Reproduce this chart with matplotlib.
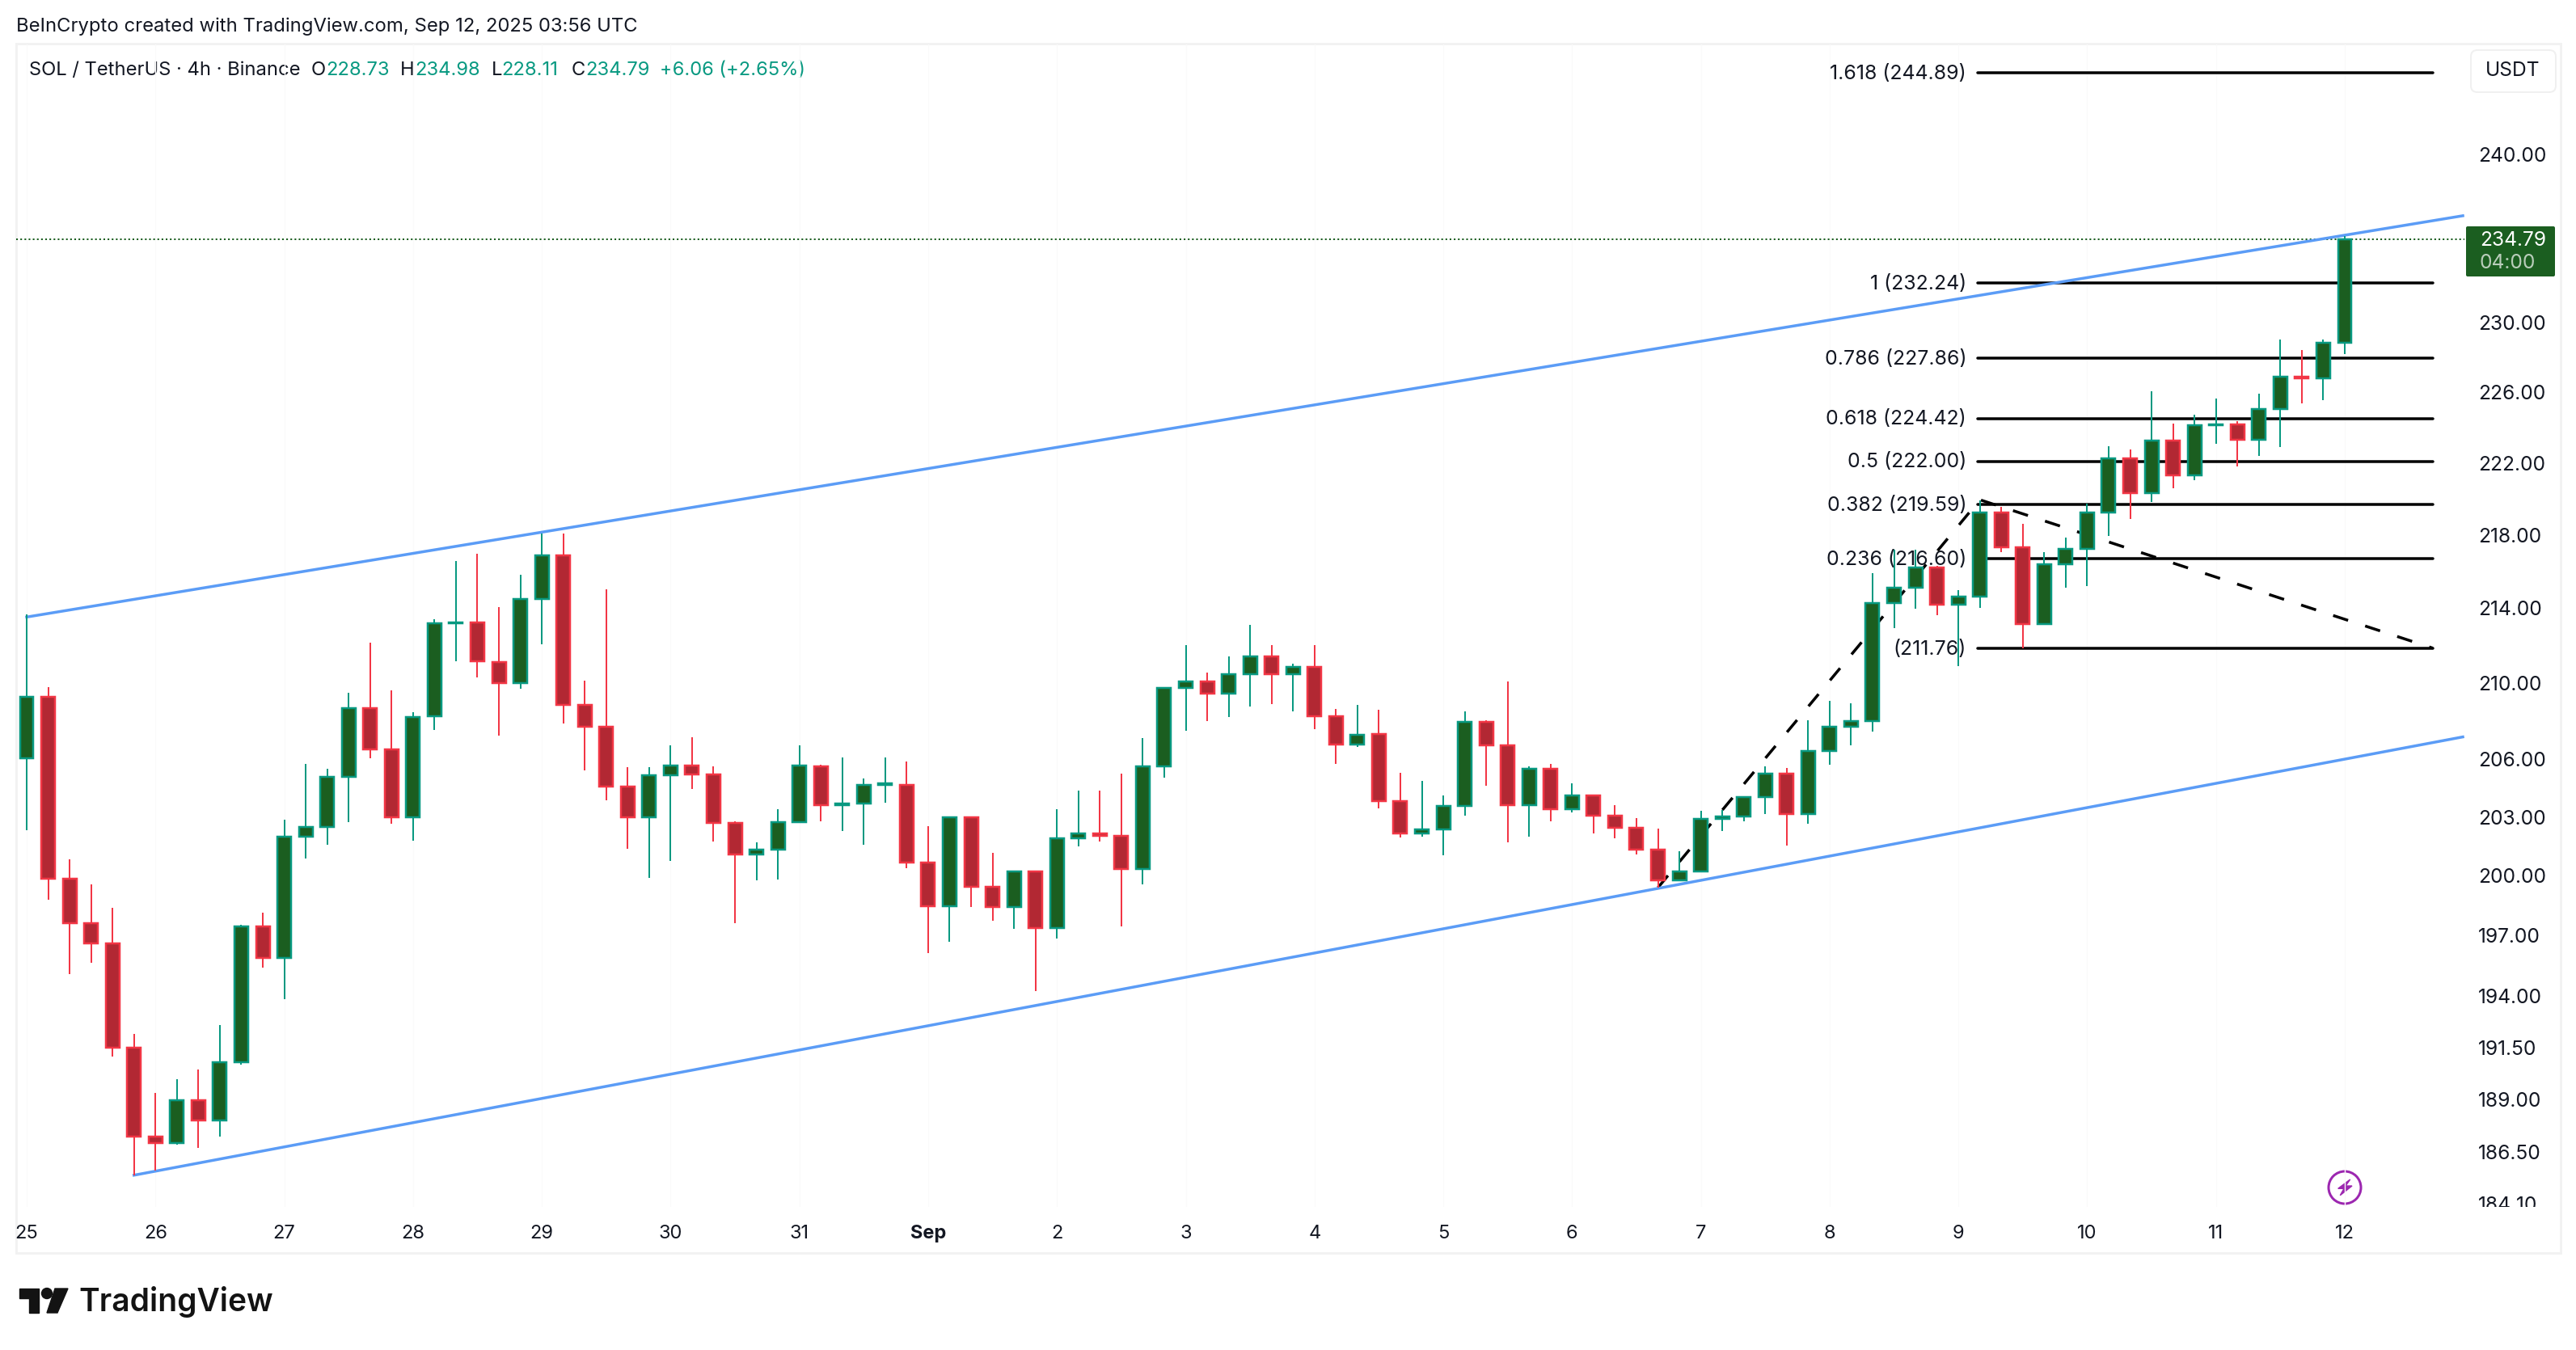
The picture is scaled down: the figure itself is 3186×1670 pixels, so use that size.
import matplotlib
matplotlib.use('Agg')
import matplotlib.pyplot as plt
from matplotlib.patches import Rectangle, Circle, Polygon, FancyBboxPatch
from matplotlib.transforms import Bbox, TransformedBbox, ScaledTranslation

plt.rcParams['font.family'] = ['Inter', 'DejaVu Sans']
plt.rcParams['lines.scale_dashes'] = False

# SOL/USDT 4h candles
opens = [205.96, 209.19, 199.79, 197.52, 196.52, 191.42, 187.18, 186.87, 188.88, 187.95,
         190.70, 197.38, 195.83, 201.89, 202.39, 204.97, 208.58, 206.39, 202.91, 208.16,
         213.08, 213.13, 211.00, 209.91, 214.39, 216.80, 208.75, 207.60, 204.46, 202.91,
         205.06, 205.57, 205.10, 202.59, 200.99, 201.23, 202.64, 205.52, 203.53, 203.60,
         204.56, 204.56, 200.59, 198.40, 202.90, 199.36, 198.33, 200.13, 197.31, 201.82,
         202.08, 201.95, 200.27, 205.52, 209.62, 209.97, 209.34, 210.37, 211.33, 210.37,
         210.75, 208.15, 206.67, 207.21, 203.73, 202.07, 202.28, 203.47, 207.84, 206.62,
         203.52, 205.40, 203.31, 204.02, 202.96, 202.34, 201.24, 199.69, 200.13, 202.80,
         202.94, 203.92, 205.13, 203.06, 206.31, 207.61, 207.89, 214.20, 215.00, 216.10,
         214.09, 214.55, 219.16, 217.21, 213.05, 216.28, 217.15, 219.16, 222.18, 220.22,
         223.16, 221.20, 224.01, 224.07, 223.21, 224.97, 226.78, 226.72, 228.73]
highs = [213.56, 209.69, 200.76, 199.49, 198.32, 192.10, 189.26, 189.90, 190.35, 192.53,
         197.47, 198.07, 202.79, 205.67, 205.38, 209.39, 212.05, 209.49, 208.34, 213.30,
         216.47, 216.88, 213.98, 215.74, 217.98, 218.00, 210.03, 214.93, 205.50, 205.50,
         206.64, 207.06, 205.54, 202.67, 201.60, 203.32, 206.64, 205.63, 206.00, 204.88,
         205.97, 205.76, 202.46, 202.90, 202.95, 201.10, 200.15, 200.15, 203.32, 204.28,
         204.28, 205.13, 206.98, 209.65, 211.92, 210.47, 211.33, 213.01, 211.92, 210.94,
         211.93, 208.54, 208.76, 208.50, 205.17, 204.79, 204.03, 208.42, 207.94, 209.99,
         205.54, 205.67, 204.66, 204.04, 203.53, 202.85, 202.33, 201.17, 203.22, 203.27,
         203.99, 205.54, 205.46, 207.94, 208.95, 208.82, 215.81, 217.10, 217.11, 216.22,
         214.90, 219.81, 219.47, 218.53, 216.96, 217.76, 219.64, 222.85, 222.67, 225.96,
         224.14, 224.62, 225.56, 224.28, 225.84, 228.95, 228.34, 228.95, 234.98]
lows = [202.23, 198.70, 195.00, 195.57, 190.99, 185.35, 185.57, 186.80, 186.65, 187.15,
        190.59, 195.34, 193.77, 200.81, 201.49, 202.65, 205.93, 202.55, 201.70, 207.43,
        211.07, 210.18, 207.14, 209.61, 211.98, 207.77, 205.33, 203.79, 201.30, 199.82,
        200.66, 204.37, 201.64, 197.53, 199.71, 199.75, 202.60, 202.70, 202.21, 201.49,
        203.66, 200.30, 196.05, 196.61, 198.34, 197.65, 197.25, 194.18, 196.77, 201.40,
        201.67, 197.38, 199.47, 204.94, 207.39, 207.91, 208.12, 208.67, 208.80, 208.40,
        207.45, 205.67, 206.55, 203.37, 201.85, 201.89, 200.95, 203.00, 204.51, 201.60,
        201.89, 202.67, 203.13, 202.06, 201.81, 201.00, 199.32, 199.63, 200.12, 202.21,
        202.70, 203.07, 201.47, 202.58, 205.59, 206.63, 207.36, 212.85, 213.87, 213.55,
        210.78, 213.93, 216.96, 211.76, 213.00, 215.00, 215.09, 217.83, 218.77, 219.72,
        220.49, 220.96, 222.97, 221.71, 222.28, 222.79, 225.29, 225.44, 228.11]
closes = [209.19, 199.79, 197.52, 196.52, 191.42, 187.18, 186.87, 188.88, 187.95, 190.70,
          197.38, 195.83, 201.89, 202.39, 204.97, 208.58, 206.39, 202.91, 208.09, 213.08,
          213.13, 211.04, 209.91, 214.39, 216.80, 208.75, 207.60, 204.46, 202.91, 205.06,
          205.57, 205.10, 202.59, 200.99, 201.23, 202.64, 205.57, 203.53, 203.60, 204.56,
          204.64, 200.59, 198.40, 202.90, 199.36, 198.35, 200.13, 197.31, 201.82, 202.08,
          201.95, 200.27, 205.52, 209.62, 209.97, 209.34, 210.37, 211.33, 210.37, 210.75,
          208.15, 206.67, 207.17, 203.73, 202.07, 202.28, 203.47, 207.84, 206.62, 203.52,
          205.40, 203.31, 204.02, 202.96, 202.34, 201.24, 199.69, 200.13, 202.80, 202.94,
          203.92, 205.13, 203.06, 206.31, 207.61, 207.89, 214.20, 215.00, 216.10, 214.09,
          214.55, 219.16, 217.21, 213.05, 216.28, 217.15, 219.16, 222.18, 220.22, 223.16,
          221.20, 224.01, 224.07, 223.21, 224.97, 226.78, 226.72, 228.73, 234.79]

# fib levels
fib_prices = [244.89, 232.24, 227.86, 224.42, 222.00, 219.59, 216.60, 211.76]
fib_labels = ['1.618 (244.89)', '1 (232.24)', '0.786 (227.86)', '0.618 (224.42)',
              '0.5 (222.00)', '0.382 (219.59)', '0.236 (216.60)', '(211.76)']
fib_bars = [90.9, 112.1]

# channel and the dashed fib path
upper_bars = [0, 113.5]
upper_prices = [213.43, 236.21]
lower_bars = [5, 113.5]
lower_prices = [185.35, 207.06]
path_bars = [76, 91, 112.1]
path_prices = [199.32, 219.85, 211.76]

# axes labels
price_ticks = [184.10, 186.50, 189, 191.50, 194, 197, 200, 203, 206, 210, 214, 218,
               222, 226, 230, 240]
day_labels = ['25', '26', '27', '28', '29', '30', '31', 'Sep', '2', '3', '4', '5', '6',
              '7', '8', '9', '10', '11', '12']
last_price = 234.79
BARS_PER_DAY = 6

GREEN_BODY = '#1b5e20'
GREEN_EDGE = '#089981'
RED_BODY = '#b22833'
RED_EDGE = '#f23645'
BLUE = '#5b9cf6'
TEXT = '#131722'
W, H = 3186, 1670
PX = 0.72  # points per pixel at dpi 100

fig = plt.figure(figsize=(W / 100, H / 100), dpi=100)
fig.patch.set_facecolor('white')

# page layer in pixel coordinates: frame, header, logo, price tag
bg = fig.add_axes([0, 0, 1, 1])
bg.set_xlim(0, W)
bg.set_ylim(H, 0)
bg.axis('off')

bg.add_patch(Rectangle((20, 54), 3147, 1496, facecolor='white', edgecolor='#f2f2f2', linewidth=3 * PX))
bg.text(20, 33, 'BeInCrypto created with TradingView.com, Sep 12, 2025 03:56 UTC',
        fontsize=17.15, color=TEXT, va='center')
bg.text(36, 87, 'SOL / TetherUS · 4h · Binance', fontsize=17.1, color=TEXT, va='center')
for x, s, c in [(385, 'O', TEXT), (403, '228.73', GREEN_EDGE), (495, 'H', TEXT), (513, '234.98', GREEN_EDGE),
                (608, 'L', TEXT), (620, '228.11', GREEN_EDGE), (707, 'C', TEXT), (724, '234.79', GREEN_EDGE),
                (816, '+6.06 (+2.65%)', GREEN_EDGE)]:
    bg.text(x, 87, s, fontsize=17.1, color=c, va='center')

# TradingView logo
bg.add_patch(Polygon([(24, 1594), (48, 1594), (48, 1624), (36, 1624), (36, 1606), (24, 1606)], color='#131313'))
bg.add_patch(Circle((58, 1600), 6.5, color='#131313'))
bg.add_patch(Polygon([(68, 1594), (84, 1594), (71, 1624), (58, 1624)], color='#131313'))
bg.text(97, 1611, 'TradingView', fontsize=28, fontweight='semibold', color='#131313', va='center')

# USDT button and last price tag
bg.add_patch(FancyBboxPatch((3064, 70), 89, 36, boxstyle='round,pad=8', facecolor='white',
                            edgecolor='#f0f0f0', linewidth=2 * PX))
bg.text(3108, 88, 'USDT', fontsize=17.7, color=TEXT, ha='center', va='center')
bg.add_patch(FancyBboxPatch((3052, 282), 106, 58, boxstyle='round,pad=2', facecolor=GREEN_BODY, edgecolor='none'))
bg.text(3067, 298, '234.79', fontsize=17.7, color='white', va='center')
bg.text(3067, 326, '04:00', fontsize=17.7, color='#b9cdba', va='center')

# lightning icon
bg.add_patch(Circle((2900, 1469), 20, facecolor='none', edgecolor='#9c27b0', linewidth=3 * PX))
bg.add_patch(Polygon([(2906.7, 1459), (2891.7, 1470.3), (2899, 1470.3), (2894.3, 1478.7),
                      (2909, 1467), (2901, 1467)], color='#9c27b0'))

# chart
left, right, top, bottom = 20, 3048, 55, 1493
ax = fig.add_axes([left / W, 1 - bottom / H, (right - left) / W, (bottom - top) / H])
ax.patch.set_visible(False)
ax.set_yscale('log')
step = (2900 - 33) / 108
ax.set_xlim((left - 33) / step, (right - 33) / step)
ax.set_ylim(183.87, 246.66)
for s in ax.spines.values():
    s.set_visible(False)

bars = list(range(len(opens)))
ax.set_xticks(bars[::BARS_PER_DAY], day_labels, fontsize=17, color=TEXT)
ax.set_yticks(price_ticks, [f'{p:.2f}' for p in price_ticks], fontsize=17.7, color=TEXT)
ax.minorticks_off()
ax.yaxis.tick_right()
ax.tick_params(axis='y', length=0, pad=12.5)
ax.tick_params(axis='x', length=0, pad=15.5)
ax.get_xticklabels()[day_labels.index('Sep')].set_fontweight('bold')
ax.grid(axis='x', color='#fafafa', linewidth=1)
ax.set_axisbelow(True)

# price labels sit about two pixels lower than the tick centre
nudge = ScaledTranslation(0, -2 / 100, fig.dpi_scale_trans)
for lab in ax.get_yticklabels():
    lab.set_transform(lab.get_transform() + nudge)

# the lowest price label is cut by the pane edge in the original
clip = TransformedBbox(Bbox([[0, 1 - bottom / H], [1, 1]]), fig.transFigure)
low_label = ax.get_yticklabels()[0]
low_label.set_clip_box(clip)
low_label.set_clip_on(True)

# drawings sit under the candles
ax.axhline(last_price, color=GREEN_BODY, linewidth=2 * PX, dashes=(1.5, 2.2), zorder=1)
for p, label in zip(fib_prices, fib_labels):
    ax.plot(fib_bars, [p, p], color='black', linewidth=3.5 * PX, solid_capstyle='round', zorder=1.5)
    ax.annotate(label, (fib_bars[0], p), xytext=(-10, -1), textcoords='offset points',
                ha='right', va='center', fontsize=17.9, color=TEXT, zorder=1.5)
ax.plot(path_bars, path_prices, color='black', linewidth=3.5 * PX, dashes=(14, 16), zorder=1.6)
ax.plot(upper_bars, upper_prices, color=BLUE, linewidth=3.5 * PX, zorder=1.7)
ax.plot(lower_bars, lower_prices, color=BLUE, linewidth=3.5 * PX, zorder=1.7)

for i, o, h, l, c in zip(bars, opens, highs, lows, closes):
    up = c >= o
    edge = GREEN_EDGE if up else RED_EDGE
    body = GREEN_BODY if up else RED_BODY
    ax.vlines(i, l, h, color=edge, linewidth=2 * PX, zorder=2)
    ax.bar(i, abs(c - o), bottom=min(o, c), width=0.64, color=body, edgecolor=edge,
           linewidth=2.5 * PX, zorder=3)

plt.savefig('out.png', dpi=100)
plt.close()
